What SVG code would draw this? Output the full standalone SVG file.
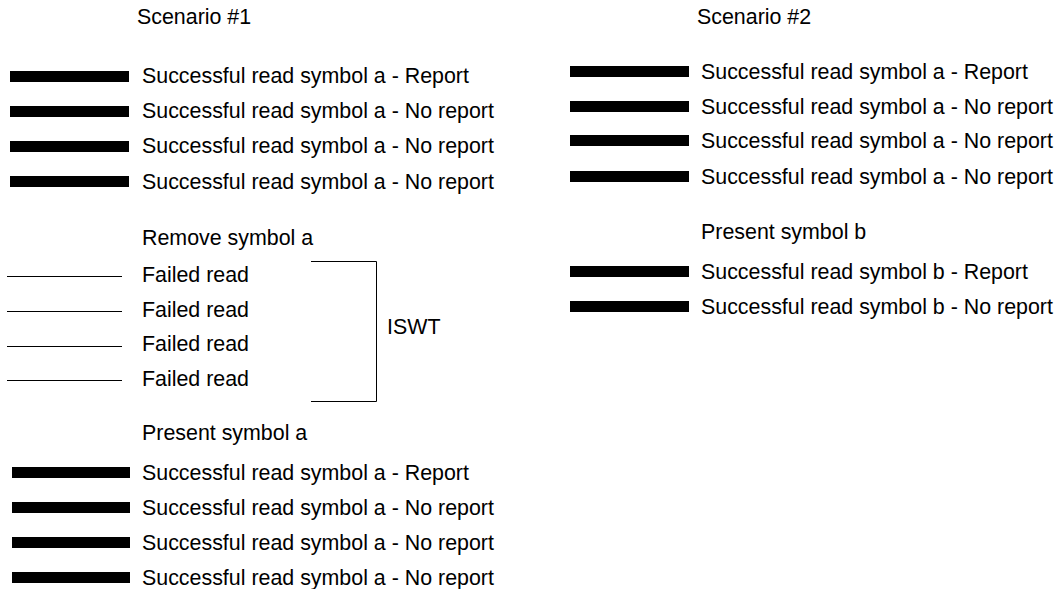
<svg xmlns="http://www.w3.org/2000/svg" width="1062" height="589" viewBox="0 0 1062 589">
<style>
text{font-family:"Liberation Sans",Arial,sans-serif;font-size:21.4px;fill:#000}
.bar{fill:#000}
.thin{stroke:#000;stroke-width:1;fill:none}
</style>
<rect width="1062" height="589" fill="#fff"/>
<g id="scenario1">
<text x="137" y="24">Scenario #1</text>
<g id="s1-r1"><rect class="bar" x="10" y="71" width="119" height="11"/><text x="142" y="83">Successful read symbol a - Report</text></g>
<g id="s1-r2"><rect class="bar" x="10" y="106" width="119" height="11"/><text x="142" y="118">Successful read symbol a - No report</text></g>
<g id="s1-r3"><rect class="bar" x="10" y="141" width="119" height="11"/><text x="142" y="153">Successful read symbol a - No report</text></g>
<g id="s1-r4"><rect class="bar" x="10" y="176" width="119" height="11"/><text x="142" y="189">Successful read symbol a - No report</text></g>
<text x="142" y="245">Remove symbol a</text>
<g id="s1-f1"><line class="thin" x1="7" y1="276.5" x2="122" y2="276.5"/><text x="142" y="282">Failed read</text></g>
<g id="s1-f2"><line class="thin" x1="7" y1="311.5" x2="122" y2="311.5"/><text x="142" y="317">Failed read</text></g>
<g id="s1-f3"><line class="thin" x1="7" y1="346.5" x2="122" y2="346.5"/><text x="142" y="351">Failed read</text></g>
<g id="s1-f4"><line class="thin" x1="7" y1="380.5" x2="122" y2="380.5"/><text x="142" y="386">Failed read</text></g>
<g id="iswt"><path class="thin" d="M311,261.5 H376.5 V401.5 H311"/><text x="387" y="334">ISWT</text></g>
<text x="142" y="440">Present symbol a</text>
<g id="s1-r5"><rect class="bar" x="12" y="467" width="118" height="11"/><text x="142" y="480">Successful read symbol a - Report</text></g>
<g id="s1-r6"><rect class="bar" x="12" y="502" width="118" height="11"/><text x="142" y="515">Successful read symbol a - No report</text></g>
<g id="s1-r7"><rect class="bar" x="12" y="537" width="118" height="11"/><text x="142" y="550">Successful read symbol a - No report</text></g>
<g id="s1-r8"><rect class="bar" x="12" y="572" width="118" height="11"/><text x="142" y="585">Successful read symbol a - No report</text></g>
</g>
<g id="scenario2">
<text x="697" y="24">Scenario #2</text>
<g id="s2-r1"><rect class="bar" x="570" y="66" width="119" height="11"/><text x="701" y="79">Successful read symbol a - Report</text></g>
<g id="s2-r2"><rect class="bar" x="570" y="101" width="119" height="11"/><text x="701" y="114">Successful read symbol a - No report</text></g>
<g id="s2-r3"><rect class="bar" x="570" y="135" width="119" height="11"/><text x="701" y="148">Successful read symbol a - No report</text></g>
<g id="s2-r4"><rect class="bar" x="570" y="171" width="119" height="11"/><text x="701" y="184">Successful read symbol a - No report</text></g>
<text x="701" y="239">Present symbol b</text>
<g id="s2-r5"><rect class="bar" x="570" y="266" width="119" height="11"/><text x="701" y="279">Successful read symbol b - Report</text></g>
<g id="s2-r6"><rect class="bar" x="570" y="301" width="119" height="11"/><text x="701" y="314">Successful read symbol b - No report</text></g>
</g>
<g id="connectors"></g>
</svg>
